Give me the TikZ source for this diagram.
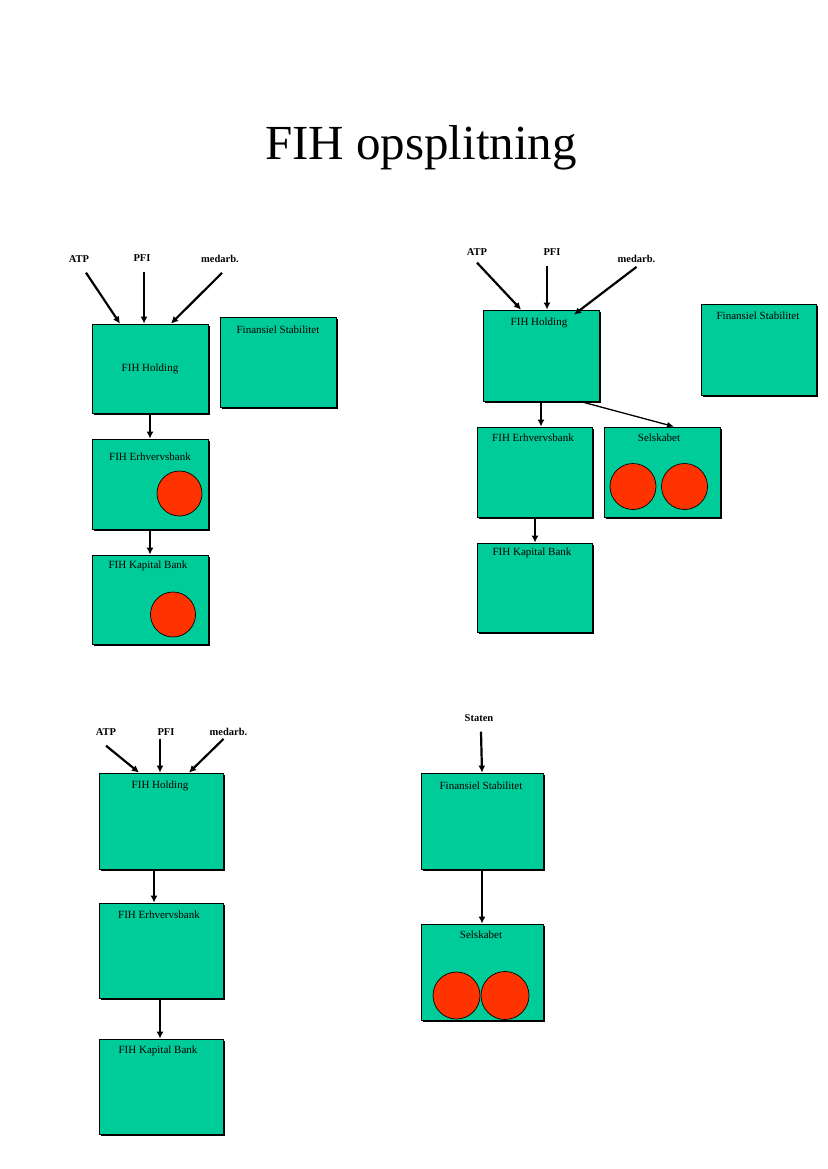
\documentclass[tikz,border=0pt]{standalone}
\usepackage{fontspec}
\setmainfont{Liberation Serif}
\usetikzlibrary{arrows.meta}
\definecolor{fihgreen}{HTML}{00CC99}
\definecolor{fihred}{HTML}{FF3300}
\tikzset{
  fbox/.style={draw=black, line width=0.8pt, fill=fihgreen, inner sep=0pt,
    preaction={fill=black, transform canvas={shift={(1.8pt,-1.8pt)}}}},
  btxt/.style={font=\fontsize{11}{13}\selectfont, inner sep=0pt},
  lab/.style={font=\fontsize{10.5}{12}\selectfont\bfseries, inner sep=0pt},
  redc/.style={circle, draw=black, line width=0.7pt, fill=fihred, inner sep=0pt},
  arr/.style={line width=2.2pt, -{Latex[length=7pt,width=7pt]}},
  tarr/.style={line width=1.3pt, -{Latex[length=7pt,width=6pt]}}
}
\begin{document}
\begin{tikzpicture}[x=1pt,y=-1pt]
\useasboundingbox (0,0) rectangle (827,1169);
% title
\node[font=\fontsize{49}{57}\selectfont, inner sep=0pt] (title) at (421,148) {FIH opsplitning};

% ---------- top left ----------
\node[lab] (atpA) at (79,259) {ATP};
\node[lab] (pfiA) at (142,258) {PFI};
\node[lab] (medA) at (220,259) {medarb.};
\node[fbox, minimum width=116pt, minimum height=89pt] (holdA) at (150,368.5) {};
\node[btxt] (holdAt) at (holdA.center) {FIH Holding};
\node[fbox, minimum width=116pt, minimum height=90pt] (fsA) at (278,362) {};
\node[btxt] (fsAt) at (278,330) {Finansiel Stabilitet};
\node[fbox, minimum width=116pt, minimum height=90pt] (erhA) at (150,484) {};
\node[btxt] (erhAt) at (150,457) {FIH Erhvervsbank};
\node[redc, minimum size=45pt] (cA1) at (179.5,493.5) {};
\node[fbox, minimum width=116pt, minimum height=89pt] (kapA) at (150,599.5) {};
\node[btxt] (kapAt) at (148,566) {FIH Kapital Bank};
\node[redc, minimum size=45pt] (cA2) at (173,614.5) {};
\draw[arr] ([shift={(7pt,-10pt)}]atpA.south) -- ([xshift=-30pt]holdA.north);
\draw[arr] ([shift={(2pt,-10pt)}]pfiA.south) -- ([xshift=-6pt]holdA.north);
\draw[arr] ([shift={(2pt,-10pt)}]medA.south) -- ([xshift=21pt]holdA.north);
\draw[arr] (holdA.south) -- (erhA.north);
\draw[arr] (erhA.south) -- (kapA.north);

% ---------- top right ----------
\node[lab] (atpB) at (477,252) {ATP};
\node[lab] (pfiB) at (552,252) {PFI};
\node[lab] (medB) at (636.5,259) {medarb.};
\node[fbox, minimum width=116pt, minimum height=91pt] (holdB) at (541,355.5) {};
\node[btxt] (holdBt) at (539,323) {FIH Holding};
\node[fbox, minimum width=115pt, minimum height=91pt] (fsB) at (758.5,349.5) {};
\node[btxt] (fsBt) at (758,316) {Finansiel Stabilitet};
\node[fbox, minimum width=115pt, minimum height=90pt] (erhB) at (534.5,472) {};
\node[btxt] (erhBt) at (533,438) {FIH Erhvervsbank};
\node[fbox, minimum width=116pt, minimum height=90pt] (selB) at (662,472) {};
\node[btxt] (selBt) at (659,438) {Selskabet};
\node[redc, minimum size=46pt] (cB1) at (633,486.5) {};
\node[redc, minimum size=46pt] (cB2) at (684.5,486.5) {};
\node[fbox, minimum width=115pt, minimum height=89pt] (kapB) at (534.5,587.5) {};
\node[btxt] (kapBt) at (532,553) {FIH Kapital Bank};
\draw[arr] ([shift={(0pt,-7pt)}]atpB.south) -- ([xshift=-20pt]holdB.north);
\draw[arr] ([shift={(-5pt,-10pt)}]pfiB.south) -- ([xshift=6pt]holdB.north);
\draw[arr] ([shift={(0pt,-4pt)}]medB.south) -- ([shift={(33pt,-5pt)}]holdB.north);
\draw[arr] (holdB.south) -- (holdB.south |- erhB.north);
\draw[tarr] ([xshift=39pt]holdB.south) -- ([xshift=12pt]selB.north);
\draw[arr] ([xshift=0.5pt]erhB.south) -- ([xshift=0.5pt]kapB.north);

% ---------- bottom left ----------
\node[lab] (atpC) at (106,732) {ATP};
\node[lab] (pfiC) at (166,732) {PFI};
\node[lab] (medC) at (228.5,732) {medarb.};
\node[fbox, minimum width=124pt, minimum height=96pt] (holdC) at (161,821) {};
\node[btxt] (holdCt) at (160,786) {FIH Holding};
\node[fbox, minimum width=124pt, minimum height=95pt] (erhC) at (161,950.5) {};
\node[btxt] (erhCt) at (159,915) {FIH Erhvervsbank};
\node[fbox, minimum width=124pt, minimum height=95pt] (kapC) at (161,1086.5) {};
\node[btxt] (kapCt) at (158,1051) {FIH Kapital Bank};
\draw[arr] ([shift={(0pt,-10pt)}]atpC.south) -- ([xshift=-22pt]holdC.north);
\draw[arr] ([shift={(-6pt,-3pt)}]pfiC.south) -- ([xshift=-1pt]holdC.north);
\draw[arr] ([shift={(-5pt,-3pt)}]medC.south) -- ([xshift=28pt]holdC.north);
\draw[arr] ([xshift=-7pt]holdC.south) -- ([xshift=-7pt]erhC.north);
\draw[arr] ([xshift=-1pt]erhC.south) -- ([xshift=-1pt]kapC.north);

% ---------- bottom right ----------
\node[lab] (statD) at (479,718) {Staten};
\node[fbox, minimum width=122pt, minimum height=96pt] (fsD) at (482,821) {};
\node[btxt] (fsDt) at (481,786) {Finansiel Stabilitet};
\node[fbox, minimum width=122pt, minimum height=96pt] (selD) at (482,972) {};
\node[btxt] (selDt) at (481,935) {Selskabet};
\node[redc, minimum size=47pt] (cD1) at (456.5,995.5) {};
\node[redc, minimum size=48pt] (cD2) at (505,995.5) {};
\draw[arr] ([shift={(2pt,-10pt)}]statD.south) -- (fsD.north);
\draw[arr] (fsD.south) -- (selD.north);
\end{tikzpicture}
\end{document}
